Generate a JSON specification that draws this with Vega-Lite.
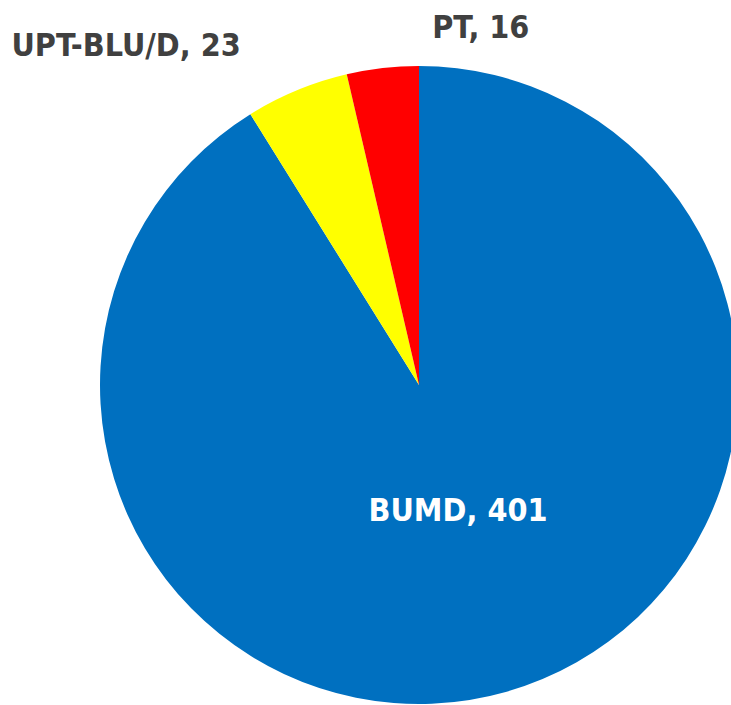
{
  "$schema": "https://vega.github.io/schema/vega-lite/v6.json",
  "width": 838,
  "height": 770,
  "autosize": "none",
  "padding": 0,
  "background": "white",
  "view": {"stroke": null},
  "data": {"values": [
    {"party": "BUMD", "value": 401, "ord": 1, "label": "BUMD, 401"},
    {"party": "UPT-BLU/D", "value": 23, "ord": 2, "label": "UPT-BLU/D, 23"},
    {"party": "PT", "value": 16, "ord": 3, "label": "PT, 16"}
  ]},
  "encoding": {
    "theta": {"field": "value", "type": "quantitative", "stack": true},
    "order": {"field": "ord", "type": "quantitative"}
  },
  "layer": [
    {
      "mark": {"type": "arc", "outerRadius": 319, "stroke": null},
      "encoding": {
        "color": {"field": "party", "type": "nominal",
          "scale": {"domain": ["BUMD", "UPT-BLU/D", "PT"], "range": ["#0070C0", "#FFFF00", "#FF0000"]},
          "legend": null}
      }
    },
    {
      "mark": {"type": "text", "radius": 131, "font": "DejaVu Sans Condensed, DejaVu Sans, sans-serif", "fontWeight": "bold", "fontSize": 32, "color": "white", "align": "center", "baseline": "alphabetic", "dx": 3, "dy": 10},
      "encoding": {
        "text": {"condition": {"test": "datum.party == 'BUMD'", "field": "label"}, "value": ""}
      }
    },
    {
      "mark": {"type": "text", "radius": 356, "font": "DejaVu Sans Condensed, DejaVu Sans, sans-serif", "fontWeight": "bold", "fontSize": 32, "color": "#404040", "align": "right", "baseline": "alphabetic", "dx": -42},
      "encoding": {
        "text": {"condition": {"test": "datum.party == 'UPT-BLU/D'", "field": "label"}, "value": ""}
      }
    },
    {
      "mark": {"type": "text", "radius": 349, "font": "DejaVu Sans Condensed, DejaVu Sans, sans-serif", "fontWeight": "bold", "fontSize": 32, "color": "#404040", "align": "left", "baseline": "alphabetic", "dx": 53},
      "encoding": {
        "text": {"condition": {"test": "datum.party == 'PT'", "field": "label"}, "value": ""}
      }
    }
  ]
}
